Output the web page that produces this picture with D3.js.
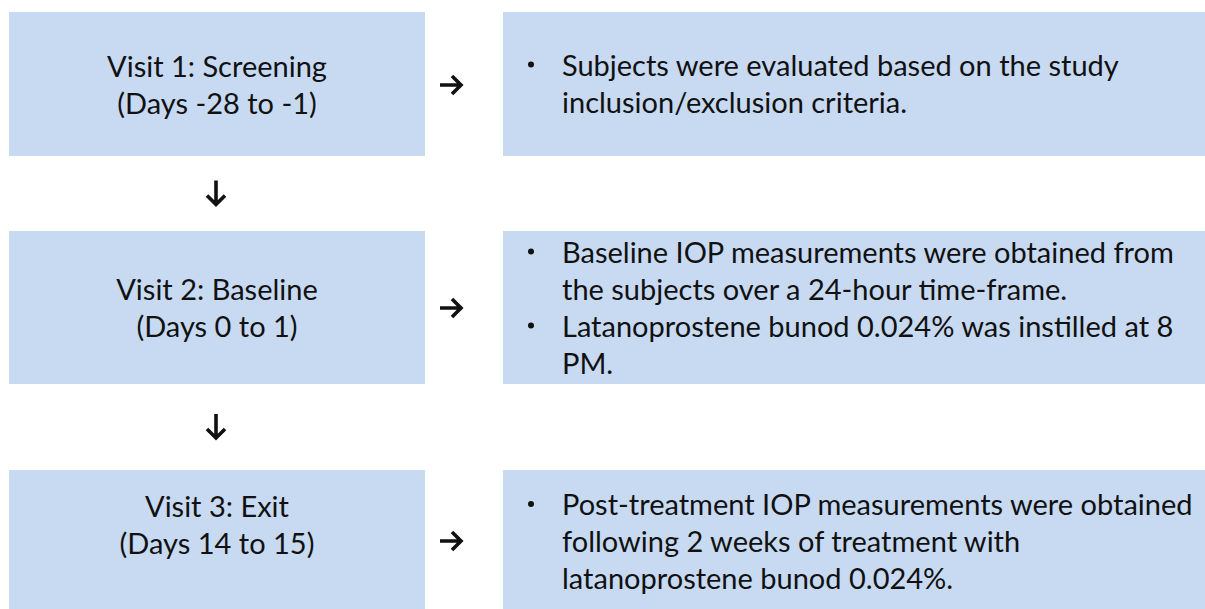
<!DOCTYPE html>
<html lang="en">
	<head>
		<meta charset="utf-8">
		<title>Study visits</title>
		<script type="text/javascript" src="https://cdn.jsdelivr.net/npm/d3@7"></script>
		<style type="text/css">
			body{
				margin: 0px;
				overflow: hidden;
				background: #ffffff;
			}
			text{
				font-family: Lato, "Open Sans", sans-serif;
				fill: #111111;
			}
			.box{
				fill: #c7daf2;
			}
			.arrow{
				fill: none;
				stroke: #111111;
				stroke-width: 3.6;
				stroke-linecap: butt;
				stroke-linejoin: miter;
			}
		</style>
	</head>
	<body>
		<script type="text/javascript">

			// visits (left column)
			const visitNames = ['Visit 1: Screening', 'Visit 2: Baseline', 'Visit 3: Exit'];
			const visitDays = ['(Days -28 to -1)', '(Days 0 to 1)', '(Days 14 to 15)'];

			// what happened at each visit (right column), bullets already wrapped into lines
			const visitNotes = [
				[['Subjects were evaluated based on the study', 'inclusion/exclusion criteria.']],
				[['Baseline IOP measurements were obtained from', 'the subjects over a 24-hour time-frame.'],
				 ['Latanoprostene bunod 0.024% was instilled at 8', 'PM.']],
				[['Post-treatment IOP measurements were obtained', 'following 2 weeks of treatment with', 'latanoprostene bunod 0.024%.']]
			];

			const width = 1205;
			const height = 609;

			// layout of the rows
			const rowTop = [12, 231, 470];
			const rowBottom = [156, 384, 640];
			const leftCenterY = [85, 308, 525];
			const rightCenterY = [84, 308, 542];
			const lineH = 37;
			const fontSize = 29;

			const leftX = 9, leftW = 416;
			const rightX = 503, rightW = 720;
			const bulletX = 531, textX = 562;

			const svg = d3.select("body")
						.append("svg")
						.attr("width", width)
						.attr("height", height);

			const rows = svg.selectAll("g.row")
				.data(visitNames)
				.enter()
				.append("g")
				.attr("class", "row");

			// left boxes
			rows.append("rect")
				.attr("class", "box")
				.attr("x", leftX)
				.attr("y", (d, i) => rowTop[i])
				.attr("width", leftW)
				.attr("height", (d, i) => rowBottom[i] - rowTop[i]);

			// right boxes
			rows.append("rect")
				.attr("class", "box")
				.attr("x", rightX)
				.attr("y", (d, i) => rowTop[i])
				.attr("width", rightW)
				.attr("height", (d, i) => rowBottom[i] - rowTop[i]);

			// visit name + days, centred
			rows.each(function(d, i) {
				const g = d3.select(this);
				const lines = [visitNames[i], visitDays[i]];
				lines.forEach((t, k) => {
					g.append("text")
						.attr("x", leftX + leftW / 2)
						.attr("y", leftCenterY[i] + (k - (lines.length - 1) / 2) * lineH)
						.attr("dy", "0.35em")
						.attr("text-anchor", "middle")
						.style("font-size", fontSize + "px")
						.text(t);
				});

				// bullets
				const notes = visitNotes[i];
				const total = d3.sum(notes, n => n.length);
				let k = 0;
				notes.forEach(bullet => {
					bullet.forEach((t, j) => {
						const y = rightCenterY[i] + (k - (total - 1) / 2) * lineH;
						if (j === 0) {
							g.append("circle")
								.attr("cx", bulletX)
								.attr("cy", y - 1)
								.attr("r", 3)
								.attr("fill", "#111111");
						}
						g.append("text")
							.attr("x", textX)
							.attr("y", y)
							.attr("dy", "0.35em")
							.style("font-size", fontSize + "px")
							.text(t);
						k++;
					});
				});

				// right arrow between the two boxes
				const ay = (i === 2) ? 541 : leftCenterY[i];
				g.append("path")
					.attr("class", "arrow")
					.attr("d", `M440,${ay} H461 M452,${ay - 9} L461,${ay} L452,${ay + 9}`);
			});

			// down arrows between rows
			svg.selectAll("path.down")
				.data(visitNames.slice(1))
				.enter()
				.append("path")
				.attr("class", "arrow down")
				.attr("d", (d, i) => {
					const y0 = (rowBottom[i] + rowTop[i + 1]) / 2 - 13;
					const y1 = y0 + 24;
					return `M216,${y0} V${y1} M207,${y1 - 9} L216,${y1} L225,${y1 - 9}`;
				});

		</script>
	</body>
</html>
